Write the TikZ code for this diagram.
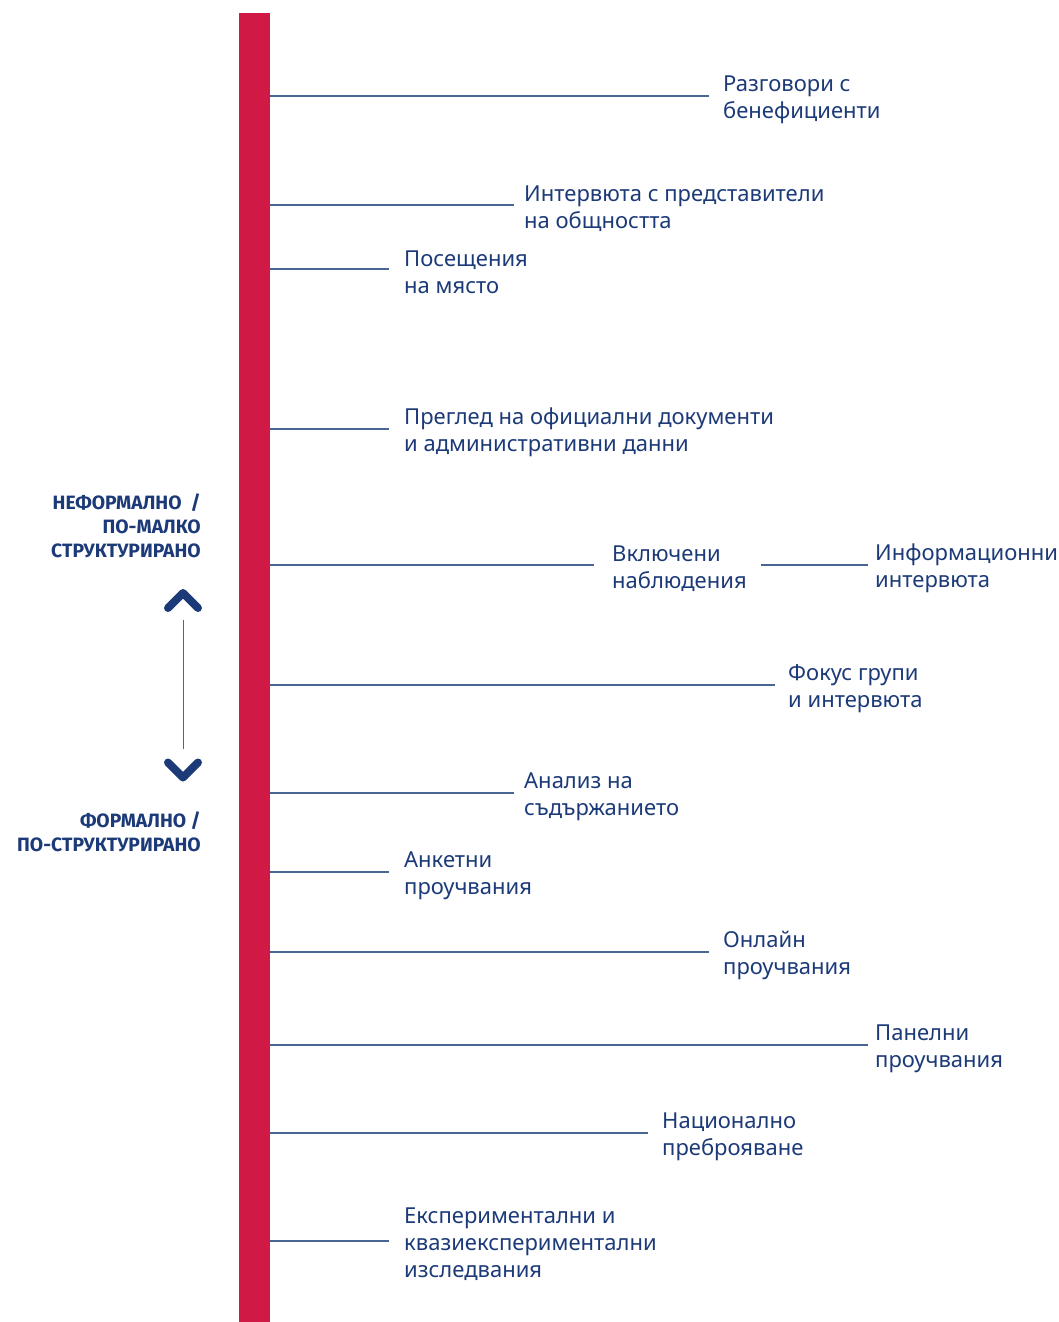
\documentclass[tikz,border=0pt]{standalone}
\usepackage{fontspec}
\setmainfont{Noto Sans}[Script=Cyrillic]
\newfontfamily\sidefont{Fira Sans}[Script=Cyrillic]
\definecolor{barred}{HTML}{D01A45}
\definecolor{navy}{HTML}{1C3A78}
\definecolor{linec}{HTML}{4A6494}
\newcommand\rowline[3]{\draw[conn] ([yshift=3.5pt]#1 |- #2.west) -- ([xshift=-#3pt,yshift=3.5pt]#2.west);}
\begin{document}
\begin{tikzpicture}[x=1pt,y=1pt,
  item/.style={anchor=west,align=left,inner sep=0pt,text=navy,yshift=-3.5pt,font=\fontsize{22}{27}\selectfont},
  side/.style={anchor=east,align=right,inner sep=0pt,text=navy,font=\sidefont\bfseries\fontsize{19.3}{24}\selectfont},
  conn/.style={draw=linec,line width=1.2pt},
  chev/.style={draw=navy,line width=8pt,line cap=round,line join=round}]
\useasboundingbox (0,0) rectangle (1058,-1322);
\node[fill=barred,minimum width=31pt,minimum height=1309pt,inner sep=0pt,anchor=north west] (bar) at (239,-13) {};
% items
\node[item] (t1) at (723,-96) {Разговори с\\бенефициенти};
\node[item] (t2) at (524,-205) {Интервюта с представители\\на общността};
\node[item] (t3) at (404,-269) {Посещения\\на място};
\node[item] (t4) at (404,-429) {Преглед на официални документи\\и административни данни};
\node[item] (t5) at (612,-565) {Включени\\наблюдения};
\node[item] (t6) at (875,-565) {Информационни\\интервюта};
\node[item] (t7) at (788,-685) {Фокус групи\\и интервюта};
\node[item] (t8) at (524,-793) {Анализ на\\съдържанието};
\node[item] (t9) at (404,-872) {Анкетни\\проучвания};
\node[item] (t10) at (723,-952) {Онлайн\\проучвания};
\node[item] (t11) at (875,-1045) {Панелни\\проучвания};
\node[item] (t12) at (662,-1133) {Национално\\преброяване};
\node[item] (t13) at (404,-1241) {Експериментални и\\квазиекспериментални\\изследвания};
% connectors
\rowline{bar.east}{t1}{14}
\rowline{bar.east}{t2}{10}
\rowline{bar.east}{t3}{15}
\rowline{bar.east}{t4}{15}
\rowline{bar.east}{t5}{18}
\coordinate (mid) at (761,-565);
\draw[conn] (mid) -- ([xshift=-7pt,yshift=3.5pt]t6.west);
\rowline{bar.east}{t7}{13}
\rowline{bar.east}{t8}{10}
\rowline{bar.east}{t9}{15}
\rowline{bar.east}{t10}{14}
\rowline{bar.east}{t11}{7}
\rowline{bar.east}{t12}{14}
\rowline{bar.east}{t13}{15}
% side labels
\node[side] (s1) at (201,-526) {НЕФОРМАЛНО \ /\\ПО-МАЛКО\\СТРУКТУРИРАНО};
\node[side] (s2) at (201,-832) {ФОРМАЛНО /\\ПО-СТРУКТУРИРАНО};
% double arrow
\coordinate (up) at (183,-593);
\coordinate (dn) at (183,-777.5);
\draw[chev] ([xshift=-15pt,yshift=-15pt]up) -- (up) -- ([xshift=15pt,yshift=-15pt]up);
\draw[chev] ([xshift=-15pt,yshift=15pt]dn) -- (dn) -- ([xshift=15pt,yshift=15pt]dn);
\coordinate (vtop) at (183,-620);
\coordinate (vbot) at (183,-749);
\draw[conn,line width=1pt] (vtop) -- (vbot);
\end{tikzpicture}
\end{document}
